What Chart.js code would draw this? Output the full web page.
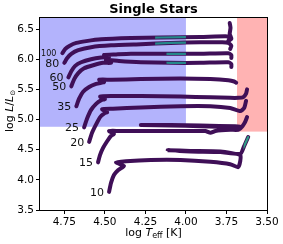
<!DOCTYPE html>
<html><head><meta charset="utf-8">
<script src="https://cdn.jsdelivr.net/npm/chart.js@4"></script>
<style>html,body{margin:0;padding:0;background:#fff}</style>
</head><body>
<canvas id="c" width="283" height="244"></canvas>
<script>
// ---- data (log Teff, log L) ----
const masses = ['100','80','60','50','35','25','20','15','10'];
const track100 = [[4.762,6.10],[4.744,6.17],[4.719,6.22],[4.676,6.27],[4.615,6.30],[4.523,6.33],[4.339,6.35],[4.156,6.36],[3.911,6.37],[3.757,6.38],[3.727,6.37],[3.740,6.30],[3.720,6.34],[3.730,6.42],[3.725,6.52],[3.730,6.60]];
const track80 = [[4.750,5.94],[4.732,6.02],[4.707,6.09],[4.664,6.15],[4.585,6.20],[4.462,6.23],[4.278,6.25],[4.094,6.27],[3.911,6.28],[3.776,6.28],[3.739,6.27],[3.720,6.22],[3.727,6.17]];
const track60 = [[4.725,5.70],[4.707,5.80],[4.683,5.89],[4.646,5.95],[4.585,6.00],[4.523,6.03],[4.474,6.04],[4.505,6.07],[4.431,6.08],[4.339,6.09],[4.156,6.09],[3.911,6.09],[3.739,6.10],[3.720,6.07],[3.720,6.02]];
const track50 = [[4.707,5.55],[4.689,5.67],[4.664,5.77],[4.628,5.85],[4.572,5.90],[4.511,5.94],[4.462,5.94],[4.493,5.99],[4.413,5.97],[4.278,5.95],[4.094,5.94],[3.911,5.94],[3.739,5.95],[3.720,5.92],[3.720,5.87]];
const track35 = [[4.676,5.22],[4.658,5.35],[4.634,5.46],[4.597,5.54],[4.554,5.59],[4.523,5.61],[4.505,5.62],[4.535,5.66],[4.462,5.66],[4.278,5.67],[4.033,5.68],[3.849,5.67],[3.739,5.65],[3.702,5.63],[3.690,5.61]];
const track25 = [[4.628,4.87],[4.609,5.02],[4.585,5.16],[4.554,5.26],[4.523,5.32],[4.499,5.34],[4.529,5.38],[4.462,5.39],[4.278,5.39],[4.033,5.38],[3.849,5.37],[3.727,5.36],[3.678,5.36],[3.647,5.37],[3.629,5.43],[3.623,5.50]];
const track20 = [[4.597,4.63],[4.579,4.78],[4.554,4.92],[4.529,5.04],[4.499,5.11],[4.486,5.12],[4.517,5.17],[4.450,5.18],[4.278,5.20],[4.033,5.22],[3.849,5.22],[3.727,5.19],[3.665,5.14],[3.641,5.19],[3.629,5.31]];
const track15 = [[4.542,4.29],[4.530,4.41],[4.511,4.53],[4.486,4.64],[4.462,4.73],[4.444,4.76],[4.474,4.81],[4.413,4.81],[4.217,4.81],[3.972,4.81],[3.880,4.81],[3.849,4.78],[3.818,4.81],[3.727,4.83],[3.678,4.83],[3.659,4.87],[3.696,4.89],[3.911,4.90],[4.094,4.91],[4.278,4.91],[4.094,4.90],[3.911,4.89],[3.696,4.87],[3.659,4.87],[3.635,4.96],[3.623,5.04]];
const track10 = [[4.474,3.80],[4.462,3.95],[4.444,4.08],[4.419,4.16],[4.382,4.23],[4.431,4.29],[4.370,4.31],[4.217,4.33],[4.033,4.33],[3.849,4.30],[3.727,4.26],[3.678,4.21],[3.665,4.31],[3.665,4.41],[3.788,4.47],[3.972,4.48],[4.113,4.49],[3.972,4.47],[3.788,4.46],[3.665,4.43],[3.641,4.56],[3.616,4.71]];
const tracks = [track100,track80,track60,track50,track35,track25,track20,track15,track10];
const xTicks = [4.75,4.50,4.25,4.00,3.75,3.50];
const yTicks = [3.5,4.0,4.5,5.0,5.5,6.0,6.5];
// shaded regions: [xFrom, xTo, yFrom, yTo]
const blueRegion = [4.90, 4.00, 4.88, 6.7];
const redRegion  = [3.685, 3.50, 4.80, 6.7];
// teal-coloured parts of tracks: [trackIndex, xFrom, xTo, yFrom, yTo]
const tealParts = [[0,4.19,4.00,6.0,6.5],[1,4.19,4.00,6.0,6.5],[2,4.12,4.00,5.8,6.3],[3,4.12,4.00,5.8,6.3],[8,3.645,3.60,4.50,4.80]];

const FONT = "'DejaVu Sans', sans-serif";
const PURPLE = '#3f0f57';

const datasets = tracks.map((t,i)=>({
  label: masses[i],
  data: t.map(p=>({x:p[0],y:p[1]})),
  showLine: true, pointRadius: 0, borderColor: PURPLE, borderWidth: 4,
  borderJoinStyle: 'round', borderCapStyle: 'round', tension: 0.2, fill:false
}));

function rectPx(chart, r){
  const xs = chart.scales.x, ys = chart.scales.y;
  const x1 = xs.getPixelForValue(r[0]), x2 = xs.getPixelForValue(r[1]);
  const y1 = ys.getPixelForValue(r[2]), y2 = ys.getPixelForValue(r[3]);
  return [Math.min(x1,x2), Math.min(y1,y2), Math.abs(x2-x1), Math.abs(y2-y1)];
}

const decor = {
  id: 'decor',
  beforeDatasetsDraw(chart){
    const ctx = chart.ctx, a = chart.chartArea;
    ctx.save();
    ctx.beginPath(); ctx.rect(a.left,a.top,a.right-a.left,a.bottom-a.top); ctx.clip();
    let r = rectPx(chart, blueRegion);
    ctx.fillStyle = 'rgb(179,179,252)'; ctx.fillRect(r[0],r[1],r[2],r[3]);
    r = rectPx(chart, redRegion);
    ctx.fillStyle = 'rgb(255,179,179)'; ctx.fillRect(r[0],r[1],r[2],r[3]);
    ctx.restore();
  },
  afterDatasetsDraw(chart){
    const ctx = chart.ctx;
    tealParts.forEach(tp=>{
      const meta = chart.getDatasetMeta(tp[0]);
      const r = rectPx(chart, [tp[1],tp[2],tp[3],tp[4]]);
      ctx.save();
      ctx.beginPath(); ctx.rect(r[0],r[1],r[2],r[3]); ctx.clip();
      ctx.beginPath();
      meta.data.forEach((p,k)=>{ if(k===0) ctx.moveTo(p.x,p.y); else ctx.lineTo(p.x,p.y); });
      ctx.strokeStyle = tp[0]===8 ? '#2f9a84' : '#24888a';
      ctx.lineWidth = 2.2; ctx.lineJoin='round'; ctx.lineCap='round';
      ctx.stroke();
      ctx.restore();
    });
    ctx.save();
    ctx.fillStyle = '#111'; ctx.textAlign='right'; ctx.textBaseline='middle';
    chart.data.datasets.forEach((ds,i)=>{
      const p = chart.getDatasetMeta(i).data[0];
      ctx.font = (masses[i].length>2 ? '8px ' : '11px ') + FONT;
      const off = masses[i].length>2 ? 6 : 5;
      ctx.fillText(masses[i], p.x - off, p.y + 1);
    });
    ctx.restore();
  },
  afterDraw(chart){
    const ctx = chart.ctx, a = chart.chartArea;
    ctx.save();
    ctx.strokeStyle = '#000'; ctx.lineWidth = 1;
    ctx.strokeRect(Math.round(a.left)-0.5, Math.round(a.top)+0.5, Math.round(a.right-a.left)+1, Math.round(a.bottom-a.top));
    ctx.fillStyle = '#000'; ctx.textBaseline='middle'; ctx.textAlign='center';
    ctx.font = 'bold 13px ' + FONT;
    ctx.fillText('Single Stars', (a.left+a.right)/2, 10);
    function drawParts(pts, cx, cy){
      let w = 0;
      pts.forEach(p=>{ ctx.font = p[1]+FONT; w += ctx.measureText(p[0]).width; });
      let x = cx - w/2;
      ctx.textAlign='left';
      pts.forEach(p=>{ ctx.font = p[1]+FONT; ctx.fillText(p[0], x, cy + p[2]); x += ctx.measureText(p[0]).width; });
    }
    drawParts([['log ', '11px ', 0],['T','italic 11px ',0],['eff','8px ',3],[' [K]','11px ',0]], (a.left+a.right)/2, 233);
    ctx.save();
    ctx.translate(10, 111);
    ctx.rotate(-Math.PI/2);
    drawParts([['log ','11px ',0],['L','italic 11px ',0],['/','11px ',0],['L','italic 11px ',0],['\u2299','7px ',3]], 0, 0);
    ctx.restore();
    ctx.restore();
  }
};

new Chart(document.getElementById('c'), {
  type: 'scatter',
  data: { datasets },
  options: {
    responsive: false, devicePixelRatio: 1, animation: false,
    layout: { padding: { top: 17, right: 16, left: 0, bottom: 0 } },
    plugins: { legend: {display:false}, tooltip: {enabled:false}, title:{display:false} },
    scales: {
      x: {
        type: 'linear', reverse: true, min: 3.5, max: 4.9,
        afterBuildTicks: s => { s.ticks = xTicks.map(v=>({value:v})); },
        afterFit: s => { s.height = 34; },
        ticks: { callback: v => Number(v).toFixed(2), font: {family: FONT, size: 10.5}, color: '#000', padding: 2, maxRotation: 0, autoSkip: false },
        grid: { display: true, drawOnChartArea: false, drawTicks: true, tickLength: 4, color: '#000' },
        border: { display: false }
      },
      y: {
        type: 'linear', min: 3.5, max: 6.7,
        afterBuildTicks: s => { s.ticks = yTicks.map(v=>({value:v})); },
        afterFit: s => { s.width = 40; },
        ticks: { callback: v => Number(v).toFixed(1), font: {family: FONT, size: 10.5}, color: '#000', padding: 2, autoSkip: false },
        grid: { display: true, drawOnChartArea: false, drawTicks: true, tickLength: 4, color: '#000' },
        border: { display: false }
      }
    }
  },
  plugins: [decor]
});
</script>
</body></html>
